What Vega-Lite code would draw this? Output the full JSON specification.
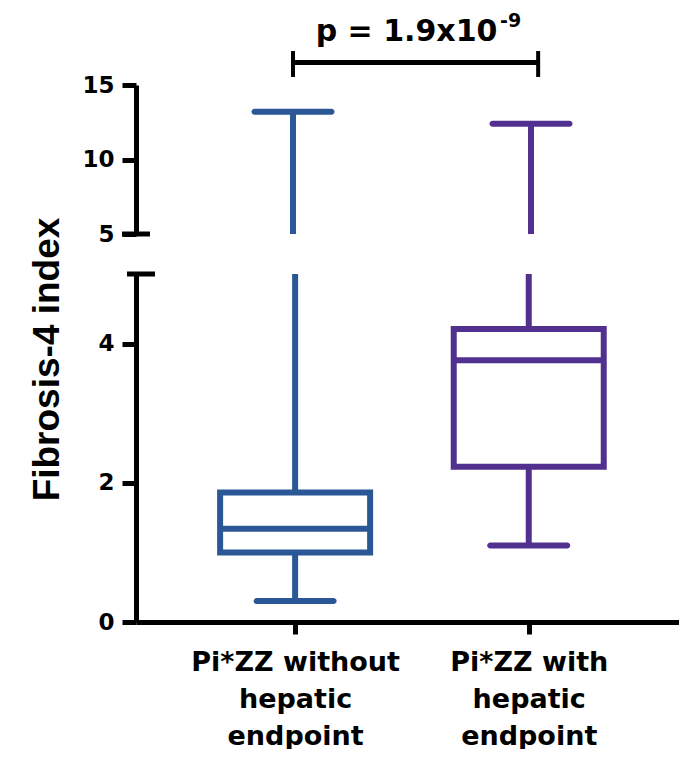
{
  "$schema": "https://vega.github.io/schema/vega-lite/v6.json",
  "background": "white",
  "padding": {"left": 28, "top": 12, "right": 0, "bottom": 0},
  "spacing": 40,
  "bounds": "flush",
  "resolve": {"scale": {"x": "independent", "y": "independent"}},
  "datasets": {
    "boxes": [
      {"group": "Pi*ZZ without hepatic endpoint", "pos": 1, "min": 0.30, "q1": 1.00, "median": 1.34, "q3": 1.86, "max": 13.2},
      {"group": "Pi*ZZ with hepatic endpoint", "pos": 2, "min": 1.10, "q1": 2.23, "median": 3.76, "q3": 4.21, "max": 12.4}
    ],
    "bracket": [{"x1": 1, "x2": 2.03, "y": 16.51}],
    "bracketEnds": [{"x": 1, "ylo": 15.54, "yhi": 17.28}, {"x": 2.03, "ylo": 15.54, "yhi": 17.28}],
    "pmain": [{"x": 1.4769, "y": 17.95, "label": "p = 1.9x10"}],
    "psup": [{"x": 1.8697, "y": 18.89, "label": "-9"}],
    "breakcap": [{"x": 0.3403, "y": 5}]
  },
  "vconcat": [
    {
      "width": 543,
      "height": 149,
      "layer": [
        {
          "data": {"name": "boxes"},
          "mark": {"type": "rule", "strokeWidth": 6, "clip": true},
          "encoding": {
            "x": {"field": "pos", "type": "quantitative", "scale": {"domain": [0.3403, 2.6218], "nice": false, "zero": false}, "axis": null},
            "y": {"field": "min", "type": "quantitative", "scale": {"domain": [5, 15], "nice": false, "zero": false},
                  "axis": {"values": [5, 10, 15], "title": null, "format": "d"}},
            "y2": {"field": "max"},
            "color": {"field": "group", "type": "nominal", "scale": {"domain": ["Pi*ZZ without hepatic endpoint", "Pi*ZZ with hepatic endpoint"], "range": ["#2B5796", "#51308F"]}, "legend": null}
          }
        },
        {
          "data": {"name": "boxes"},
          "mark": {"type": "tick", "orient": "horizontal", "size": 83, "thickness": 6, "cornerRadius": 3, "opacity": 1},
          "encoding": {
            "x": {"field": "pos", "type": "quantitative"},
            "y": {"field": "max", "type": "quantitative"},
            "color": {"field": "group", "type": "nominal", "legend": null}
          }
        },
        {
          "data": {"name": "breakcap"},
          "mark": {"type": "tick", "orient": "horizontal", "size": 28, "thickness": 5, "color": "black", "opacity": 1, "clip": false},
          "encoding": {
            "x": {"field": "x", "type": "quantitative"},
            "y": {"field": "y", "type": "quantitative"}
          }
        },
        {
          "data": {"name": "bracket"},
          "mark": {"type": "rule", "strokeWidth": 5, "color": "black", "clip": false},
          "encoding": {
            "x": {"field": "x1", "type": "quantitative"},
            "x2": {"field": "x2"},
            "y": {"field": "y", "type": "quantitative"}
          }
        },
        {
          "data": {"name": "bracketEnds"},
          "mark": {"type": "rule", "strokeWidth": 4, "color": "black", "clip": false},
          "encoding": {
            "x": {"field": "x", "type": "quantitative"},
            "y": {"field": "ylo", "type": "quantitative"},
            "y2": {"field": "yhi"}
          }
        },
        {
          "data": {"name": "pmain"},
          "mark": {"type": "text", "font": "DejaVu Sans", "fontWeight": "bold", "fontSize": 30, "align": "center", "baseline": "alphabetic", "color": "black", "clip": false},
          "encoding": {
            "x": {"field": "x", "type": "quantitative"},
            "y": {"field": "y", "type": "quantitative"},
            "text": {"field": "label"}
          }
        },
        {
          "data": {"name": "psup"},
          "mark": {"type": "text", "font": "DejaVu Sans", "fontWeight": "bold", "fontSize": 19, "align": "left", "baseline": "alphabetic", "color": "black", "clip": false},
          "encoding": {
            "x": {"field": "x", "type": "quantitative"},
            "y": {"field": "y", "type": "quantitative"},
            "text": {"field": "label"}
          }
        }
      ]
    },
    {
      "width": 543,
      "height": 348,
      "layer": [
        {
          "data": {"name": "boxes"},
          "mark": {"type": "rule", "strokeWidth": 6, "clip": true},
          "encoding": {
            "x": {"field": "pos", "type": "quantitative", "scale": {"domain": [0.3403, 2.6218], "nice": false, "zero": false},
                  "axis": {"values": [1, 2], "title": null, "tickSize": 12, "labelFontSize": 27, "labelLineHeight": 37, "labelPadding": 15, "labelLimit": 0,
                           "labelExpr": "datum.value == 1 ? ['Pi*ZZ without', 'hepatic', 'endpoint'] : ['Pi*ZZ with', 'hepatic', 'endpoint']"}},
            "y": {"field": "min", "type": "quantitative", "scale": {"domain": [0, 5], "nice": false, "zero": false},
                  "axis": {"values": [0, 2, 4], "format": "d", "title": "Fibrosis-4 index", "titleFont": "Liberation Sans", "titleFontSize": 37, "titleFontWeight": "bold", "titlePadding": 31, "titleY": 85, "titleAlign": "center"}},
            "y2": {"field": "max"},
            "color": {"field": "group", "type": "nominal", "scale": {"domain": ["Pi*ZZ without hepatic endpoint", "Pi*ZZ with hepatic endpoint"], "range": ["#2B5796", "#51308F"]}, "legend": null}
          }
        },
        {
          "data": {"name": "boxes"},
          "mark": {"type": "bar", "orient": "vertical", "size": 150, "fill": "white", "strokeWidth": 6},
          "encoding": {
            "x": {"field": "pos", "type": "quantitative"},
            "y": {"field": "q1", "type": "quantitative"},
            "y2": {"field": "q3"},
            "stroke": {"field": "group", "type": "nominal", "scale": {"domain": ["Pi*ZZ without hepatic endpoint", "Pi*ZZ with hepatic endpoint"], "range": ["#2B5796", "#51308F"]}, "legend": null}
          }
        },
        {
          "data": {"name": "boxes"},
          "mark": {"type": "tick", "orient": "horizontal", "size": 150, "thickness": 6, "opacity": 1},
          "encoding": {
            "x": {"field": "pos", "type": "quantitative"},
            "y": {"field": "median", "type": "quantitative"},
            "color": {"field": "group", "type": "nominal", "legend": null}
          }
        },
        {
          "data": {"name": "boxes"},
          "mark": {"type": "tick", "orient": "horizontal", "size": 83, "thickness": 6, "cornerRadius": 3, "opacity": 1},
          "encoding": {
            "x": {"field": "pos", "type": "quantitative"},
            "y": {"field": "min", "type": "quantitative"},
            "color": {"field": "group", "type": "nominal", "legend": null}
          }
        },
        {
          "data": {"name": "breakcap"},
          "mark": {"type": "tick", "orient": "horizontal", "size": 28, "thickness": 5, "color": "black", "opacity": 1, "clip": false},
          "encoding": {
            "x": {"field": "x", "type": "quantitative"},
            "y": {"field": "y", "type": "quantitative"}
          }
        }
      ]
    }
  ],
  "config": {
    "view": {"stroke": null},
    "axis": {"domainColor": "black", "domainWidth": 5, "tickColor": "black", "tickWidth": 5, "labelColor": "black", "titleColor": "black",
             "labelFont": "DejaVu Sans", "labelFontWeight": "bold", "grid": false},
    "axisY": {"labelFontSize": 23, "tickSize": 14, "labelPadding": 8}
  }
}
